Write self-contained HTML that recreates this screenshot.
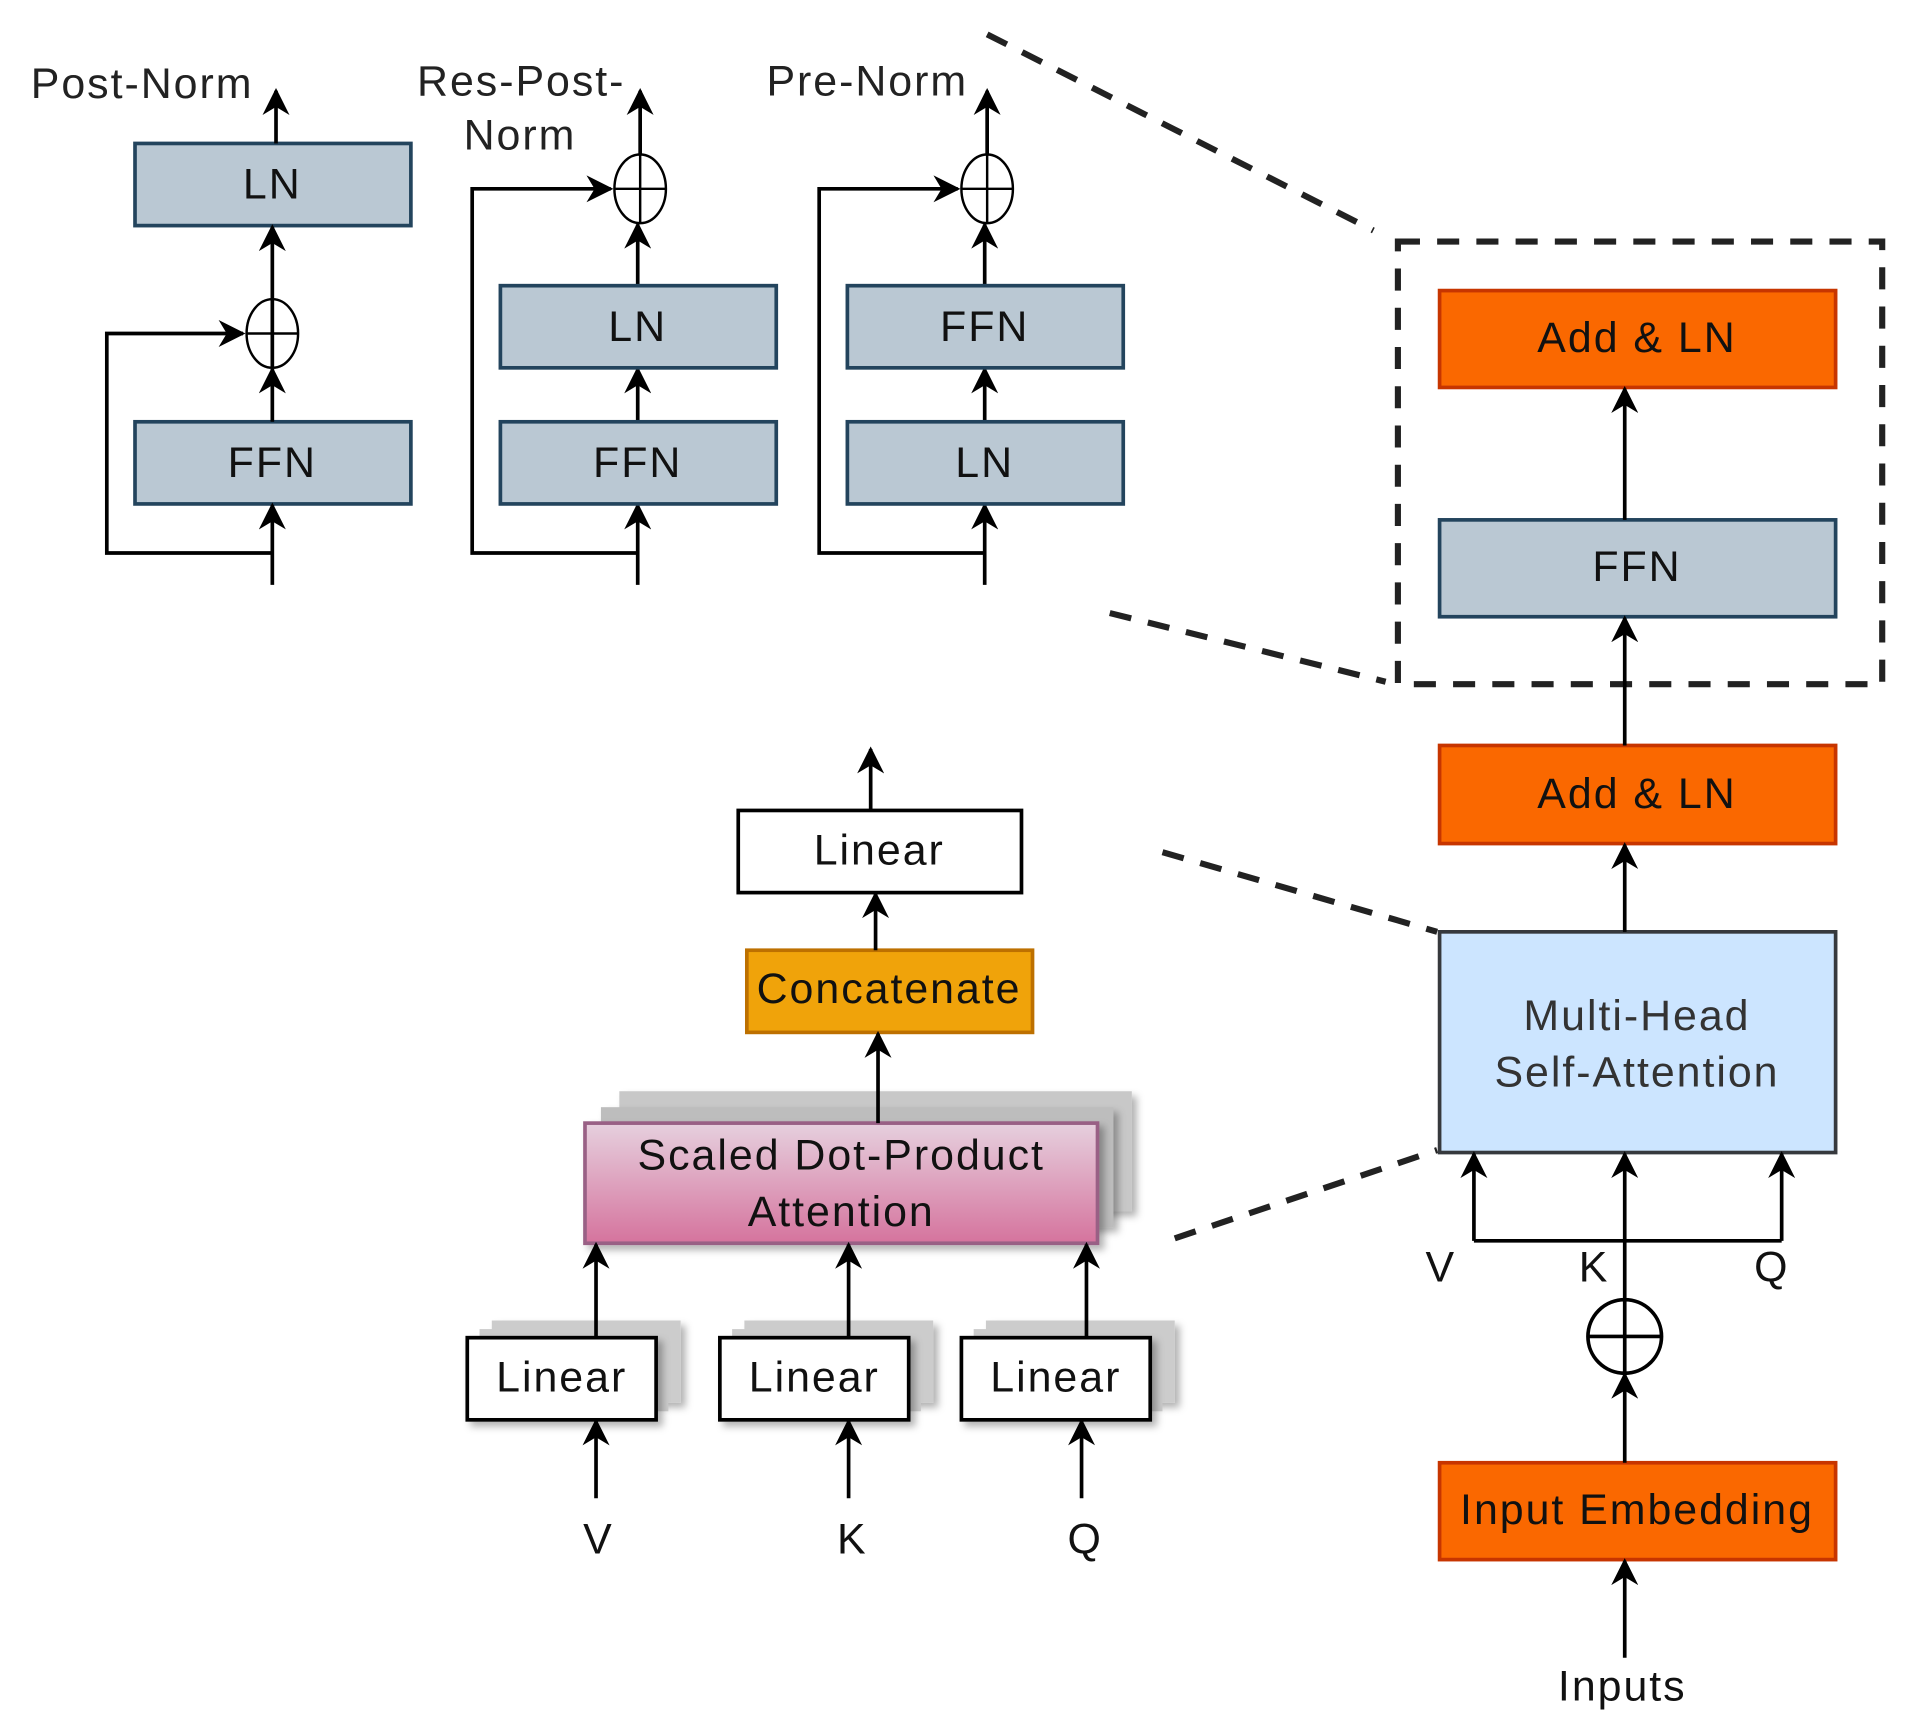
<!DOCTYPE html>
<html><head><meta charset="utf-8"><style>
html,body{margin:0;padding:0;background:#fff;}
svg{display:block;}
text{font-family:"Liberation Sans",sans-serif;letter-spacing:1.6px;}
</style></head><body>
<svg width="1913" height="1719" viewBox="0 0 1560 1402" xmlns="http://www.w3.org/2000/svg">
<defs>
<marker id="b" viewBox="0 0 10 10" refX="9" refY="5" markerWidth="22" markerHeight="22" markerUnits="userSpaceOnUse" orient="auto">
<path d="M0,0 L10,5 L0,10 L3,5 z" fill="#000"/>
</marker>
<linearGradient id="pg" x1="0" y1="0" x2="0" y2="1"><stop offset="0" stop-color="#e6d0de"/><stop offset="1" stop-color="#d5739d"/></linearGradient>
<filter id="sh" x="-10%" y="-10%" width="130%" height="140%"><feDropShadow dx="4" dy="4" stdDeviation="3" flood-color="#000" flood-opacity="0.3"/></filter>
</defs>

<!-- Post-Norm -->
<text x="25" y="80" font-size="35" fill="#222">Post-Norm</text>
<rect x="110" y="117" width="225" height="67" fill="#bac8d3" stroke="#23445d" stroke-width="3"/>
<text x="222" y="162" font-size="35" text-anchor="middle" fill="#111">LN</text>
<rect x="110" y="344" width="225" height="67" fill="#bac8d3" stroke="#23445d" stroke-width="3"/>
<text x="222" y="389" font-size="35" text-anchor="middle" fill="#111">FFN</text>
<ellipse cx="222" cy="272" rx="21" ry="28" fill="none" stroke="#000" stroke-width="2"/>
<g stroke="#000" stroke-width="3" fill="none" marker-end="url(#b)">
<line x1="225" y1="117" x2="225" y2="74"/>
<line x1="222" y1="300" x2="222" y2="185"/>
<line x1="222" y1="344" x2="222" y2="301"/>
<line x1="222" y1="477" x2="222" y2="412"/>
<polyline points="222,451 87,451 87,272 198,272"/>
<line x1="522" y1="126" x2="522" y2="74"/>
<line x1="520" y1="233" x2="520" y2="183"/>
<line x1="520" y1="344" x2="520" y2="301"/>
<line x1="520" y1="477" x2="520" y2="412"/>
<polyline points="520,451 385,451 385,154 498,154"/>
<line x1="805" y1="126" x2="805" y2="74"/>
<line x1="803" y1="233" x2="803" y2="183"/>
<line x1="803" y1="344" x2="803" y2="301"/>
<line x1="803" y1="477" x2="803" y2="412"/>
<polyline points="803,451 668,451 668,154 781,154"/>
</g>
<line x1="222" y1="244" x2="222" y2="300" stroke="#000" stroke-width="2"/>
<line x1="201" y1="272" x2="243" y2="272" stroke="#000" stroke-width="2"/>

<!-- Res-Post-Norm -->
<text x="340" y="78" font-size="35" fill="#222">Res-Post-</text>
<text x="378" y="122" font-size="35" fill="#222">Norm</text>
<ellipse cx="522" cy="154" rx="21" ry="28" fill="none" stroke="#000" stroke-width="2"/>
<line x1="522" y1="126" x2="522" y2="182" stroke="#000" stroke-width="2"/>
<line x1="501" y1="154" x2="543" y2="154" stroke="#000" stroke-width="2"/>
<rect x="408" y="233" width="225" height="67" fill="#bac8d3" stroke="#23445d" stroke-width="3"/>
<text x="520" y="278" font-size="35" text-anchor="middle" fill="#111">LN</text>
<rect x="408" y="344" width="225" height="67" fill="#bac8d3" stroke="#23445d" stroke-width="3"/>
<text x="520" y="389" font-size="35" text-anchor="middle" fill="#111">FFN</text>

<!-- Pre-Norm -->
<text x="625" y="78" font-size="35" fill="#222">Pre-Norm</text>
<ellipse cx="805" cy="154" rx="21" ry="28" fill="none" stroke="#000" stroke-width="2"/>
<line x1="805" y1="126" x2="805" y2="182" stroke="#000" stroke-width="2"/>
<line x1="784" y1="154" x2="826" y2="154" stroke="#000" stroke-width="2"/>
<rect x="691" y="233" width="225" height="67" fill="#bac8d3" stroke="#23445d" stroke-width="3"/>
<text x="803" y="278" font-size="35" text-anchor="middle" fill="#111">FFN</text>
<rect x="691" y="344" width="225" height="67" fill="#bac8d3" stroke="#23445d" stroke-width="3"/>
<text x="803" y="389" font-size="35" text-anchor="middle" fill="#111">LN</text>

<!-- dashed -->
<g stroke="#222" stroke-width="5" stroke-dasharray="18,14" fill="none">
<line x1="805" y1="28" x2="1120" y2="188"/>
<rect x="1140" y="197" width="395" height="361"/>
<line x1="905" y1="500" x2="1130" y2="556"/>
<line x1="948" y1="695" x2="1172" y2="760"/>
<line x1="958" y1="1010" x2="1172" y2="938"/>
</g>

<!-- right column -->
<rect x="1174" y="237" width="323" height="79" fill="#fa6800" stroke="#c73500" stroke-width="3"/>
<text x="1335" y="287" font-size="35" text-anchor="middle" fill="#111">Add &amp; LN</text>
<rect x="1174" y="424" width="323" height="79" fill="#bac8d3" stroke="#23445d" stroke-width="3"/>
<text x="1335" y="474" font-size="35" text-anchor="middle" fill="#111">FFN</text>
<rect x="1174" y="608" width="323" height="80" fill="#fa6800" stroke="#c73500" stroke-width="3"/>
<text x="1335" y="659" font-size="35" text-anchor="middle" fill="#111">Add &amp; LN</text>
<rect x="1174" y="760" width="323" height="180" fill="#cce5ff" stroke="#36393d" stroke-width="3"/>
<text x="1335" y="840" font-size="35" text-anchor="middle" fill="#333">Multi-Head</text>
<text x="1335" y="886" font-size="35" text-anchor="middle" fill="#333">Self-Attention</text>
<rect x="1174" y="1193" width="323" height="79" fill="#fa6800" stroke="#c73500" stroke-width="3"/>
<text x="1335" y="1243" font-size="35" text-anchor="middle" fill="#111">Input Embedding</text>
<circle cx="1325" cy="1090" r="30" fill="none" stroke="#000" stroke-width="3"/>
<line x1="1295" y1="1090" x2="1355" y2="1090" stroke="#000" stroke-width="3"/>
<g stroke="#000" stroke-width="3" fill="none" marker-end="url(#b)">
<line x1="1325" y1="424" x2="1325" y2="317"/>
<line x1="1325" y1="608" x2="1325" y2="504"/>
<line x1="1325" y1="760" x2="1325" y2="689"/>
<line x1="1202" y1="1012" x2="1202" y2="941"/>
<line x1="1325" y1="1120" x2="1325" y2="941"/>
<line x1="1453" y1="1012" x2="1453" y2="941"/>
<line x1="1325" y1="1193" x2="1325" y2="1121"/>
<line x1="1325" y1="1352" x2="1325" y2="1273"/>
</g>
<line x1="1202" y1="1012" x2="1453" y2="1012" stroke="#000" stroke-width="3"/>
<text x="1175" y="1045" font-size="35" text-anchor="middle" fill="#111">V</text>
<text x="1300" y="1045" font-size="35" text-anchor="middle" fill="#111">K</text>
<text x="1445" y="1045" font-size="35" text-anchor="middle" fill="#111">Q</text>
<text x="1323" y="1387" font-size="35" text-anchor="middle" fill="#111">Inputs</text>

<!-- multi-head detail -->
<rect x="505" y="890" width="418" height="98" fill="#c8c8c8" filter="url(#sh)"/>
<rect x="490" y="903" width="418" height="98" fill="#bdbdbd" filter="url(#sh)"/>
<rect x="477" y="916" width="418" height="98" fill="url(#pg)" stroke="#996185" stroke-width="3" filter="url(#sh)"/>
<text x="686" y="954" font-size="35" text-anchor="middle" fill="#111">Scaled Dot-Product</text>
<text x="686" y="1000" font-size="35" text-anchor="middle" fill="#111">Attention</text>

<rect x="602" y="661" width="231" height="67" fill="#fff" stroke="#000" stroke-width="3"/>
<text x="717" y="705" font-size="35" text-anchor="middle" fill="#111">Linear</text>
<rect x="609" y="775" width="233" height="67" fill="#f0a30a" stroke="#bd7000" stroke-width="3"/>
<text x="725" y="818" font-size="35" text-anchor="middle" fill="#111">Concatenate</text>

<g>
<rect x="401" y="1077" width="154" height="67" fill="#ccc" filter="url(#sh)"/>
<rect x="391" y="1084" width="154" height="67" fill="#ccc"/>
<rect x="381" y="1091" width="154" height="67" fill="#fff" stroke="#000" stroke-width="3" filter="url(#sh)"/>
<text x="458" y="1135" font-size="35" text-anchor="middle" fill="#111">Linear</text>
<rect x="607" y="1077" width="154" height="67" fill="#ccc" filter="url(#sh)"/>
<rect x="597" y="1084" width="154" height="67" fill="#ccc"/>
<rect x="587" y="1091" width="154" height="67" fill="#fff" stroke="#000" stroke-width="3" filter="url(#sh)"/>
<text x="664" y="1135" font-size="35" text-anchor="middle" fill="#111">Linear</text>
<rect x="804" y="1077" width="154" height="67" fill="#ccc" filter="url(#sh)"/>
<rect x="794" y="1084" width="154" height="67" fill="#ccc"/>
<rect x="784" y="1091" width="154" height="67" fill="#fff" stroke="#000" stroke-width="3" filter="url(#sh)"/>
<text x="861" y="1135" font-size="35" text-anchor="middle" fill="#111">Linear</text>
</g>
<g stroke="#000" stroke-width="3" fill="none" marker-end="url(#b)">
<line x1="710" y1="661" x2="710" y2="611"/>
<line x1="714" y1="775" x2="714" y2="729"/>
<line x1="716" y1="916" x2="716" y2="843"/>
<line x1="486" y1="1091" x2="486" y2="1015"/>
<line x1="692" y1="1091" x2="692" y2="1015"/>
<line x1="886" y1="1091" x2="886" y2="1015"/>
<line x1="486" y1="1222" x2="486" y2="1159"/>
<line x1="692" y1="1222" x2="692" y2="1159"/>
<line x1="882" y1="1222" x2="882" y2="1159"/>
</g>
<text x="488" y="1267" font-size="35" text-anchor="middle" fill="#111">V</text>
<text x="695" y="1267" font-size="35" text-anchor="middle" fill="#111">K</text>
<text x="885" y="1267" font-size="35" text-anchor="middle" fill="#111">Q</text>
</svg>
</body></html>
